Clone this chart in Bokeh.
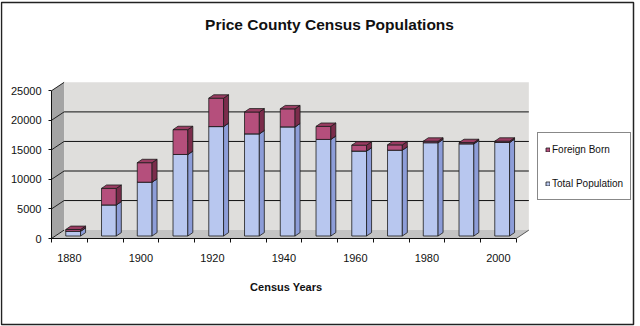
import numpy as np
from bokeh.plotting import figure
from bokeh.models import Range1d, FixedTicker, Legend, LegendItem
from bokeh.core.properties import value
from bokeh.embed import file_html
from bokeh.resources import INLINE

# ---------------- data ----------------
title_text = "Price County Census Populations"
x_title = "Census Years"
years = [1880, 1890, 1900, 1910, 1920, 1930, 1940, 1950, 1960, 1970, 1980, 1990, 2000]
total_population = [800, 5258, 9106, 13795, 18517, 17284, 18467, 16344, 14370, 14520, 15788, 15600, 15822]
foreign_born = [300, 2800, 3300, 4200, 4800, 3700, 3050, 2200, 1000, 900, 250, 200, 220]
series_names = ["Foreign Born", "Total Population"]
y_ticks = [0, 5000, 10000, 15000, 20000, 25000]
x_label_years = years[::2]

# ---------------- layout helpers ----------------
W, H = 640, 326
SX = 35.75 / 10.0          # px per year
SY = 147.75 / 25000.0      # px per person
X0PX, Y0PX = 51.0, 238.0   # pixel of (first boundary, 0)
x_start = years[0] - 5
x_end = years[-1] + 5

def X(px):
    return x_start + (px - X0PX) / SX

def Y(py):
    return (Y0PX - py) / SY

def DX(px):
    return px / SX

def DY(px):
    return px / SY

p = figure(width=W, height=H, output_backend="svg", toolbar_location=None, title=None,
           x_range=Range1d(X(0), X(W)), y_range=Range1d(Y(H), Y(0)),
           min_border_left=0, min_border_right=0, min_border_top=0, min_border_bottom=0)
p.background_fill_color = "white"
p.border_fill_color = "white"
p.outline_line_color = None
p.grid.visible = False

top = y_ticks[-1]
ddx, ddy = DX(12.6), DY(8.4)

# walls and floor
p.patch([x_start, x_start + ddx, x_start + ddx, x_start], [0, ddy, top + ddy, top],
        fill_color="#a4a4a4", line_color=None)
p.patch([x_start + ddx, x_end + ddx, x_end + ddx, x_start + ddx], [ddy, ddy, top + ddy, top + ddy],
        fill_color="#dfdedc", line_color=None)
p.patch([x_start, x_end, x_end + ddx, x_start + ddx], [0, 0, ddy, ddy],
        fill_color="#c3c3c3", line_color=None)

# gridlines
gv = y_ticks[1:-1]
p.segment(x0=[x_start + ddx] * len(gv), y0=[v + ddy for v in gv],
          x1=[x_end + ddx] * len(gv), y1=[v + ddy for v in gv], line_color="#111111", line_width=1)
p.segment(x0=[x_start] * len(y_ticks), y0=y_ticks,
          x1=[x_start + ddx] * len(y_ticks), y1=[v + ddy for v in y_ticks], line_color="#222222", line_width=1)
p.segment(x0=[x_end], y0=[0], x1=[x_end + ddx], y1=[ddy], line_color="#555555", line_width=1)

# bars
ox, oy = DX(3.8), DY(2.5)
w = DX(14.8)
bx, by = DX(5.0), DY(3.4)
xs = np.array(years, dtype=float)
L = xs + ox - w / 2
R = L + w
tot = np.array(total_population, dtype=float)
fb = np.array(foreign_born, dtype=float)

segments = [
    (np.zeros_like(tot), tot, "#b8c7ef", "#8d9dd8", "#a9b8e6"),
    (tot, tot + fb, "#b54f7c", "#7b2c4b", "#9a3c62"),
]
edge = "#1c1c1c"
fronts = []
for y0, y1, cf, cs, ct in segments:
    fr = p.quad(left=L, right=R, bottom=y0 + oy, top=y1 + oy,
                fill_color=cf, line_color=edge, line_width=0.8)
    fronts.append(fr)
    p.patches(xs=[[r, r + bx, r + bx, r] for r in R],
              ys=[[a + oy, a + oy + by, b + oy + by, b + oy] for a, b in zip(y0, y1)],
              fill_color=cs, line_color=edge, line_width=0.8)
    p.patches(xs=[[l, r, r + bx, l + bx] for l, r in zip(L, R)],
              ys=[[b + oy, b + oy, b + oy + by, b + oy + by] for b in y1],
              fill_color=ct, line_color=edge, line_width=0.8)

# front axis lines
p.segment(x0=[x_start], y0=[0], x1=[x_start], y1=[top], line_color="#111111", line_width=1)
p.segment(x0=[x_start], y0=[0], x1=[x_end], y1=[0], line_color="#111111", line_width=1)

# title and axis title
p.text(x=[X(329)], y=[Y(24)], text=[title_text], text_font=value("Liberation Sans"),
       text_font_style="bold", text_font_size="15.5px", text_align="center",
       text_baseline="middle", text_color="#111111")
p.text(x=[X(285.7)], y=[Y(286.5)], text=[x_title], text_font=value("Liberation Sans"),
       text_font_style="bold", text_font_size="11px", text_align="center",
       text_baseline="middle", text_color="#111111")

# chart area border
p.quad(left=[X(1)], right=[X(633)], top=[Y(2)], bottom=[Y(324)],
       fill_color=None, line_color="#222222", line_width=1.5)

# axes (fixed inside the frame at the front edges of the 3-D box)
yax = p.yaxis[0]
yax.fixed_location = x_start
yax.ticker = FixedTicker(ticks=y_ticks)
yax.axis_line_color = None
yax.major_tick_out = 3
yax.major_tick_in = 0
yax.minor_tick_out = 0
yax.minor_tick_in = 0
yax.major_tick_line_color = "#111111"
yax.major_label_standoff = 7
yax.major_label_text_font = "Liberation Sans"
yax.major_label_text_font_size = "11px"
yax.major_label_text_color = "#111111"

xax = p.xaxis[0]
xax.fixed_location = 0
xax.ticker = FixedTicker(ticks=x_label_years, minor_ticks=[x_start + 10 * k for k in range(len(years) + 1)])
xax.axis_line_color = None
xax.major_tick_out = 0
xax.major_tick_in = 0
xax.minor_tick_out = 4
xax.minor_tick_in = 0
xax.minor_tick_line_color = "#111111"
xax.major_label_standoff = 11
xax.major_label_text_font = "Liberation Sans"
xax.major_label_text_font_size = "11px"
xax.major_label_text_color = "#111111"

# legend
legend = Legend(items=[LegendItem(label=series_names[0], renderers=[fronts[1]]),
                       LegendItem(label=series_names[1], renderers=[fronts[0]])],
                location=(537, 126), orientation="vertical", margin=0, padding=7,
                spacing=16, label_height=18, glyph_height=5, glyph_width=5, label_standoff=2,
                border_line_color="#111111", border_line_width=1, background_fill_color="white",
                background_fill_alpha=1.0, label_text_font="Liberation Sans",
                label_text_font_size="10px", label_text_color="#111111")
p.add_layout(legend)

open("out.html", "w").write(file_html(p, INLINE))
